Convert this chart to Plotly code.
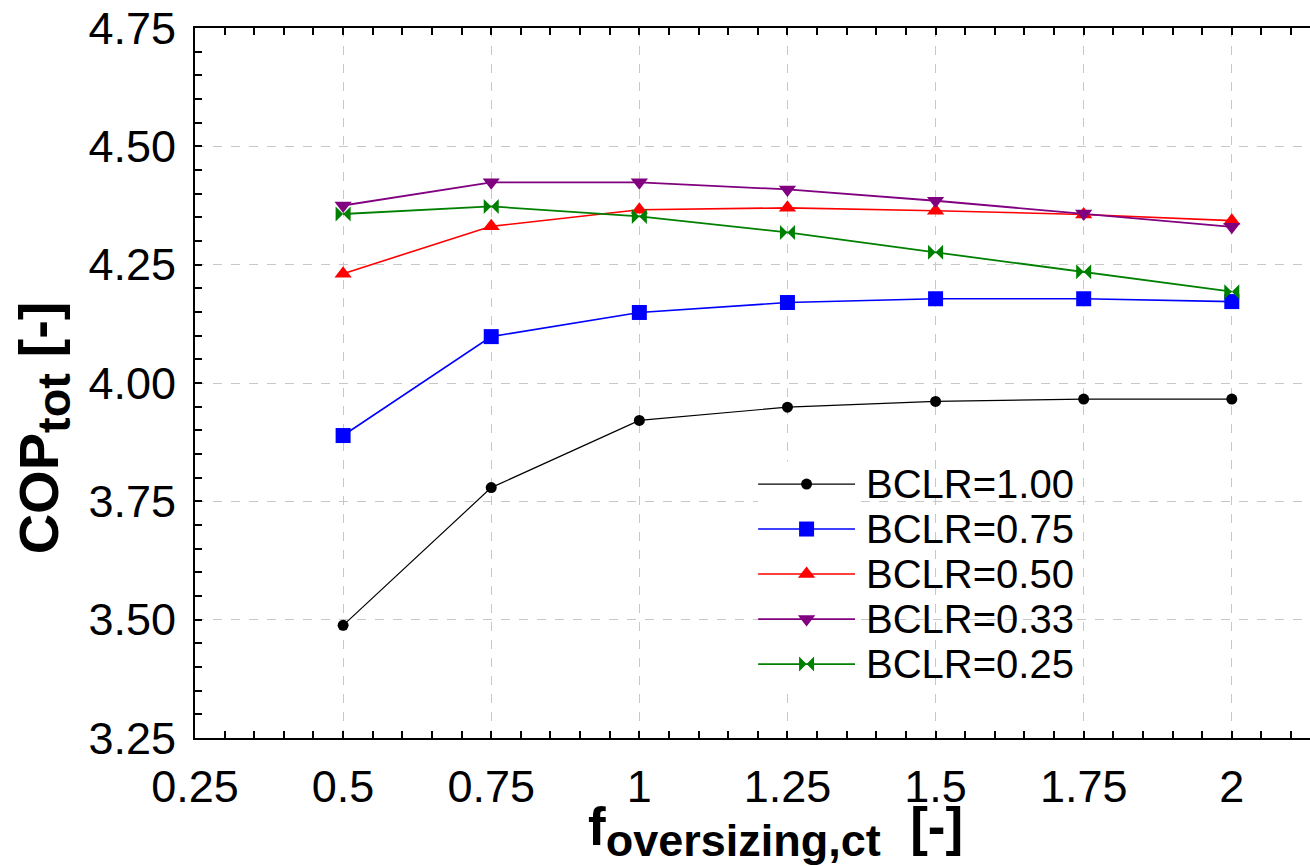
import plotly.graph_objects as go

x_vals = [0.5, 0.75, 1.0, 1.25, 1.5, 1.75, 2.0]
bclr_100 = [3.488, 3.779, 3.921, 3.949, 3.961, 3.966, 3.966]
bclr_075 = [3.889, 4.098, 4.149, 4.170, 4.178, 4.178, 4.172]
bclr_050 = [4.231, 4.331, 4.366, 4.370, 4.364, 4.356, 4.343]
bclr_033 = [4.375, 4.424, 4.424, 4.409, 4.385, 4.358, 4.330]
bclr_025 = [4.357, 4.373, 4.352, 4.318, 4.276, 4.235, 4.193]

labels = ["BCLR=1.00", "BCLR=0.75", "BCLR=0.50", "BCLR=0.33", "BCLR=0.25"]
series = [bclr_100, bclr_075, bclr_050, bclr_033, bclr_025]
colors = ["#000000", "#0000ff", "#ff0000", "#800080", "#008000"]
symbols = ["circle", "square", "triangle-up", "triangle-down", "bowtie"]
msizes = [11, 15, 15, 15, 15]
lwidths = [1.2, 1.6, 1.6, 1.8, 1.8]

x_ticks = [0.25, 0.5, 0.75, 1.0, 1.25, 1.5, 1.75, 2.0]
x_ticktext = ["0.25", "0.5", "0.75", "1", "1.25", "1.5", "1.75", "2"]
y_ticks = [3.25, 3.5, 3.75, 4.0, 4.25, 4.5, 4.75]
y_ticktext = ["3.25", "3.50", "3.75", "4.00", "4.25", "4.50", "4.75"]

# legend glyph geometry (overlay axis units)
leg_line_x = [0, 1]
leg_mark_x = [0.5]

FONT = "Liberation Sans, Arial, sans-serif"

fig = go.Figure()
for lab, ys, c, s, ms, lw in zip(labels, series, colors, symbols, msizes, lwidths):
    fig.add_trace(go.Scatter(
        x=x_vals, y=ys, mode="lines+markers", name=lab,
        line=dict(color=c, width=lw),
        marker=dict(symbol=s, size=ms, color=c, line=dict(width=0)),
        showlegend=False, cliponaxis=False,
    ))

# custom legend on an overlay axis
for i, (lab, c, s, ms, lw) in enumerate(zip(labels, colors, symbols, msizes, lwidths)):
    fig.add_trace(go.Scatter(
        x=leg_line_x, y=[i] * len(leg_line_x), xaxis="x2", yaxis="y2",
        mode="lines", line=dict(color=c, width=lw),
        showlegend=False, hoverinfo="skip",
    ))
    fig.add_trace(go.Scatter(
        x=leg_mark_x, y=[i] * len(leg_mark_x), xaxis="x2", yaxis="y2",
        mode="markers",
        marker=dict(symbol=s, size=ms, color=c, line=dict(width=0)),
        showlegend=False, hoverinfo="skip", cliponaxis=False,
    ))
    fig.add_annotation(
        x=0.600, xref="paper", y=i, yref="y2", text=lab, showarrow=False,
        xanchor="left", yanchor="middle",
        font=dict(family=FONT, size=40, color="black"),
    )

fig.add_annotation(
    x=-0.136, xref="paper", y=0.4366, yref="paper", textangle=-90,
    text="<b>COP<sub><span style='font-size:47px'>tot</span></sub> [-]</b>",
    showarrow=False, xanchor="center", yanchor="middle",
    font=dict(family=FONT, size=56, color="black"),
)
fig.add_annotation(
    x=0.521, xref="paper", y=-0.132, yref="paper",
    text="<b>f<sub><span style='font-size:45px'>oversizing,ct</span></sub>  [-]</b>",
    showarrow=False, xanchor="center", yanchor="middle",
    font=dict(family=FONT, size=53, color="black"),
)

fig.update_layout(
    width=1310, height=866,
    margin=dict(l=195, r=0, t=28, b=128, pad=0),
    paper_bgcolor="white", plot_bgcolor="white",
    font=dict(family=FONT, color="black"),
    showlegend=False,
    xaxis=dict(
        range=[0.25, 2.132], tickvals=x_ticks, ticktext=x_ticktext,
        showline=True, linecolor="black", linewidth=2, mirror="allticks",
        ticks="inside", ticklen=7, tickwidth=1.5, tickcolor="black",
        showgrid=True, gridcolor="#c8c8c8", griddash="dash", gridwidth=1.2,
        zeroline=False, tickfont=dict(size=45, family=FONT),
        ticklabelstandoff=8,
        minor=dict(dtick=0.05, tick0=0.25, ticks="inside", ticklen=7, tickwidth=1.5,
                   tickcolor="black", showgrid=False),
    ),
    yaxis=dict(
        range=[3.25, 4.75], tickvals=y_ticks, ticktext=y_ticktext,
        showline=True, linecolor="black", linewidth=2, mirror=False,
        ticks="inside", ticklen=7, tickwidth=1.5, tickcolor="black",
        showgrid=True, gridcolor="#c8c8c8", griddash="dash", gridwidth=1.2,
        zeroline=False, tickfont=dict(size=45, family=FONT),
        ticklabelstandoff=8,
        minor=dict(dtick=0.05, tick0=3.25, ticks="inside", ticklen=7, tickwidth=1.5,
                   tickcolor="black", showgrid=False),
    ),
    xaxis2=dict(domain=[0.505, 0.592], range=[0, 1], visible=False, anchor="y2"),
    yaxis2=dict(domain=[0.0725, 0.3894], range=[4.5, -0.5], visible=False, anchor="x2"),
)

fig.write_html("out.html")
